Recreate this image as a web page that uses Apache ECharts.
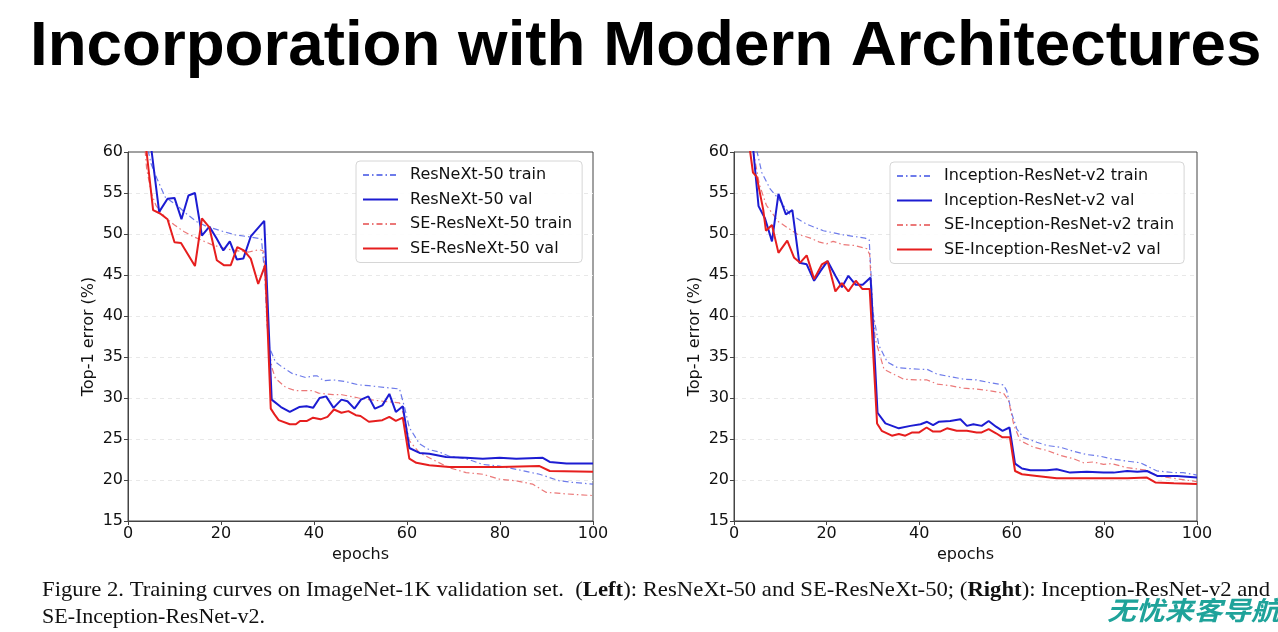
<!DOCTYPE html>
<html><head><meta charset="utf-8">
<script src="https://cdn.jsdelivr.net/npm/echarts@6/dist/echarts.min.js"></script>
<style>html,body{margin:0;padding:0;background:#fff}#c{width:1278px;height:632px}</style>
</head><body><div id="c"></div>
<script>
// ---- data ----
const xTicks = [0, 20, 40, 60, 80, 100];
const yTicks = [15, 20, 25, 30, 35, 40, 45, 50, 55, 60];

const leftNames = ['ResNeXt-50 train', 'ResNeXt-50 val', 'SE-ResNeXt-50 train', 'SE-ResNeXt-50 val'];
const rightNames = ['Inception-ResNet-v2 train', 'Inception-ResNet-v2 val', 'SE-Inception-ResNet-v2 train', 'SE-Inception-ResNet-v2 val'];

// [epoch, top-1 error %]
const resnextTrain = [[2,75],[4.4,60],[5,58.5],[6.2,56.8],[8,54.5],[10.5,53.5],[12.5,52.5],[14.8,51.5],[17,50.9],[20.5,50.3],[23,49.9],[25.5,49.7],[28.7,49.4],[29.4,45],[29.9,39],[30.4,36.2],[31.7,34.4],[33.1,33.8],[35.3,33.0],[38.2,32.5],[40,32.7],[40.7,32.7],[42.1,32.1],[44.2,32.2],[46.8,32.0],[49.6,31.6],[51.8,31.5],[55,31.3],[58.4,31.1],[59.5,28.8],[60.5,26.4],[62.7,24.4],[64.8,23.7],[67,23.4],[69.1,22.9],[72.7,22.6],[76.3,21.9],[79.9,21.7],[83.5,21.3],[88.5,20.7],[92.8,19.9],[95.7,19.7],[100,19.5]];
const resnextVal = [[3,75],[5.1,60],[6.7,52.7],[8.5,54.3],[10,54.4],[11.5,51.8],[13,54.7],[14.4,55.0],[15.9,49.8],[17.5,50.9],[19,49.5],[20.5,48.0],[21.9,49.1],[23.4,46.9],[24.8,47.0],[26.4,49.7],[29.3,51.6],[30.9,29.8],[32.9,28.9],[34.8,28.3],[36.8,28.9],[38.4,29.0],[39.8,28.8],[41.2,30.0],[42.6,30.2],[44.2,28.8],[45.9,29.8],[47.2,29.6],[48.7,28.7],[50.1,29.8],[51.7,30.2],[53.1,28.7],[54.7,29.1],[56.2,30.5],[57.6,28.3],[59.1,29.0],[60.5,23.9],[62.7,23.3],[64.8,23.2],[68.4,22.8],[72.7,22.7],[76.3,22.6],[79.9,22.7],[83.5,22.6],[89.2,22.7],[90.7,22.2],[94.3,22.0],[100,22.0]];
const seResnextTrain = [[1.5,75],[4,58],[5,55],[6,53.5],[8,52],[10,51.1],[12,50.3],[14,49.7],[16,49.2],[18,48.7],[21,48.2],[24,47.9],[26,47.8],[28.3,48.1],[29.2,47.9],[29.8,42],[30.3,36],[31,33.6],[31.7,32.4],[33.9,31.3],[36,30.9],[39.7,30.9],[41,30.6],[44.1,30.4],[46,30.4],[49.6,30.0],[51.8,29.8],[55,29.6],[58.4,29.4],[59.5,27.6],[60.5,24.8],[62.7,23.3],[65.5,22.5],[69.1,21.5],[72.7,20.9],[76.3,20.7],[79.9,20.1],[83.5,19.9],[87,19.5],[89.9,18.5],[94.3,18.3],[100,18.1]];
const seResnextVal = [[2,72],[4,60],[5.4,52.9],[6.9,52.5],[8.5,51.8],[10,49.0],[11.4,48.9],[14.4,46.1],[15.9,51.9],[17.5,50.8],[19.1,46.8],[20.6,46.2],[22.1,46.2],[23.5,48.4],[24.9,48.0],[26.4,47.0],[28,43.9],[29.5,46.2],[30.7,28.7],[31.5,28.0],[32.4,27.3],[34.8,26.8],[36.1,26.8],[37,27.2],[38.5,27.2],[39.8,27.6],[41.4,27.4],[42.9,27.7],[44.3,28.6],[45.9,28.2],[47.4,28.4],[49,27.9],[50,27.8],[51.8,27.1],[54.7,27.3],[56.2,27.7],[57.6,27.2],[59.1,27.6],[60.5,22.6],[62,22.1],[64.8,21.8],[69.1,21.6],[72.7,21.6],[80,21.6],[88.5,21.7],[90.7,21.1],[100,21.0]];

const incTrain = [[3,75],[5,60],[6,57.5],[7.8,55.5],[9.6,54.3],[12.1,52.4],[15.7,51.2],[19.3,50.4],[23.6,49.9],[28.3,49.5],[29.2,49.3],[29.6,45],[30,40.5],[31.3,36.4],[33.1,34.4],[35.3,33.7],[37.4,33.6],[40.3,33.5],[41.7,33.5],[43.9,32.9],[46.7,32.6],[49.6,32.3],[52.4,32.2],[55,31.9],[58.2,31.6],[58.9,30.9],[60,28.1],[61.1,26.2],[62.5,25.2],[65.4,24.6],[67.6,24.2],[70.5,24.0],[73.3,23.5],[76.2,23.1],[79.1,22.9],[81.3,22.6],[84.9,22.3],[87.8,22.1],[89.2,21.7],[91.4,21.1],[95,20.9],[97,20.9],[100,20.6]];
const incVal = [[3,75],[4.2,60],[5.3,53.4],[6.7,51.9],[8.2,49.1],[9.6,54.9],[11.2,52.4],[12.6,52.9],[14.1,46.5],[15.7,46.3],[17.3,44.3],[18.7,45.5],[20.2,46.7],[21.9,44.9],[23.3,43.5],[24.7,44.9],[26.3,43.8],[27.8,43.8],[29.5,44.7],[31,28.2],[32.7,26.9],[35.6,26.3],[38.1,26.6],[40.3,26.8],[41.7,27.1],[43,26.7],[44.2,27.1],[46.7,27.2],[48.9,27.4],[50.3,26.6],[51.7,26.8],[53.5,26.6],[55,27.2],[56.6,26.5],[58,26.0],[59.5,26.4],[60.7,22.0],[62.2,21.4],[64,21.2],[67.6,21.2],[69.7,21.3],[72.6,20.9],[76.2,21.0],[79.8,20.9],[82,20.9],[84.9,21.1],[87.1,21.0],[89.2,21.1],[91.4,20.5],[95.7,20.5],[100,20.3]];
const seIncTrain = [[2.5,75],[4.2,60],[5.5,56],[7,53.5],[9.6,51.5],[13.6,50.0],[16.5,49.5],[18.5,49.0],[20,48.8],[21.4,49.1],[23.6,48.7],[26,48.6],[28.7,48.2],[29.3,47.5],[29.8,42],[30.5,37.2],[32.4,33.5],[34.5,32.9],[36.6,32.3],[39.5,32.2],[41.7,32.2],[43.9,31.7],[46.7,31.5],[49.6,31.2],[52.4,31.1],[55,30.9],[58.2,30.6],[59.3,29.7],[60.4,26.8],[61.8,24.8],[64.7,24.0],[67.6,23.6],[70.5,23.0],[73.3,22.6],[75.5,22.1],[77.6,22.2],[79.8,21.9],[81.5,22.0],[84.9,21.5],[89.2,21.2],[91.4,20.5],[95,20.2],[100,19.8]];
const seIncVal = [[2,75],[3.5,60],[4.1,57.5],[4.9,57],[6.3,53.0],[6.9,50.4],[8.2,51.1],[9.6,47.7],[11.5,49.2],[13,47.1],[14.3,46.5],[15.7,47.4],[17.3,44.5],[19,46.3],[20.2,46.7],[21.9,43.0],[23.3,44.0],[24.7,43.0],[26.3,44.3],[27.7,43.3],[29.3,43.3],[30.9,26.9],[31.9,26.0],[34.1,25.4],[35.6,25.6],[37,25.4],[38.5,25.8],[40,25.8],[41.6,26.4],[43,25.9],[44.5,25.9],[46,26.3],[48.1,26.0],[50.3,26.0],[52.4,25.8],[53.5,25.8],[55,26.2],[56.6,25.7],[58,25.2],[59.6,25.2],[60.7,21.1],[62.2,20.7],[65.4,20.5],[69.7,20.2],[76.2,20.2],[85,20.2],[89.2,20.3],[91,19.7],[95,19.6],[100,19.5]];

const titleText = 'Incorporation with Modern Architectures';
const yName = 'Top-1 error (%)';
const xName = 'epochs';

// ---- styling ----
const BLUE = '#1c1cd2', RED = '#e61e1e', BLUE_T = '#5464e6', RED_T = '#e86060';
const FONT = 'DejaVu Sans';
const DASHDOT = [6, 3, 1.5, 3];

function axisPair(gi) {
  const x = {
    type: 'value', gridIndex: gi, min: xTicks[0], max: xTicks[xTicks.length - 1], interval: xTicks[1] - xTicks[0],
    name: xName, nameLocation: 'middle', nameGap: 24,
    nameTextStyle: { fontFamily: FONT, fontSize: 16, color: '#111' },
    axisLine: { show: true, lineStyle: { color: '#444', width: 1 } },
    axisTick: { show: true, inside: false, length: 4, lineStyle: { color: '#444' } },
    axisLabel: { fontFamily: FONT, fontSize: 16, color: '#111', margin: 5 },
    splitLine: { show: false }
  };
  const y = {
    type: 'value', gridIndex: gi, min: yTicks[0], max: yTicks[yTicks.length - 1], interval: yTicks[1] - yTicks[0],
    name: yName, nameLocation: 'middle', nameGap: 31, nameRotate: 90,
    nameTextStyle: { fontFamily: FONT, fontSize: 16, color: '#111' },
    axisLine: { show: true, lineStyle: { color: '#444', width: 1 } },
    axisTick: { show: true, inside: false, length: 4, lineStyle: { color: '#444' } },
    axisLabel: { fontFamily: FONT, fontSize: 16, color: '#111', margin: 5 },
    splitLine: { show: true, showMinLine: false, showMaxLine: false, lineStyle: { color: '#e8e8e8', type: [4, 4], width: 1 } }
  };
  return [x, y];
}
function mk(name, data, gi, color, train) {
  return {
    type: 'line', name, data, xAxisIndex: gi, yAxisIndex: gi,
    symbol: 'none', showSymbol: false, clip: true, animation: false,
    lineStyle: train ? { color, width: 1.2, type: DASHDOT, opacity: 0.85 } : { color, width: 2 },
    itemStyle: { color },
    z: train ? 2 : 3
  };
}
const [x0, y0] = axisPair(0);
const [x1, y1] = axisPair(1);

function legend(names, left, top) {
  return {
    data: names, orient: 'vertical', left, top,
    itemWidth: 35, itemHeight: 10, itemGap: 8.5,
    padding: [6, 10, 6, 6],
    backgroundColor: 'rgba(255,255,255,0.9)', borderColor: '#d6d6d6', borderWidth: 1, borderRadius: 4,
    itemStyle: { opacity: 0 },
    textStyle: { fontFamily: FONT, fontSize: 16, color: '#111', padding: [0, 0, 0, 7] },
    selectedMode: false
  };
}

const chart = echarts.init(document.getElementById('c'), null, { renderer: 'canvas' });
chart.setOption({
  animation: false,
  backgroundColor: '#fff',
  grid: [
    { left: 128, top: 152, width: 465, height: 369, show: true, borderColor: '#444', borderWidth: 1, backgroundColor: '#fff' },
    { left: 734, top: 152, width: 463, height: 369, show: true, borderColor: '#444', borderWidth: 1, backgroundColor: '#fff' }
  ],
  xAxis: [x0, x1],
  yAxis: [y0, y1],
  legend: [legend(leftNames, 356, 161), legend(rightNames, 890, 162)],
  series: [
    mk(leftNames[0], resnextTrain, 0, BLUE_T, true),
    mk(leftNames[2], seResnextTrain, 0, RED_T, true),
    mk(leftNames[1], resnextVal, 0, BLUE, false),
    mk(leftNames[3], seResnextVal, 0, RED, false),
    mk(rightNames[0], incTrain, 1, BLUE_T, true),
    mk(rightNames[2], seIncTrain, 1, RED_T, true),
    mk(rightNames[1], incVal, 1, BLUE, false),
    mk(rightNames[3], seIncVal, 1, RED, false)
  ],
  graphic: [
    { type: 'text', left: 30, top: 15, style: { text: titleText, fontFamily: 'Liberation Sans, Arial', fontWeight: 'bold', fontSize: 63.7, fill: '#000' } },
    { type: 'text', x: 42, y: 579, scaleX: 1.032, style: {
      text: '{n|Figure 2. Training curves on ImageNet-1K validation set.  (}{b|Left}{n|): ResNeXt-50 and SE-ResNeXt-50; (}{b|Right}{n|): Inception-ResNet-v2 and}',
      rich: { n: { fontFamily: 'Liberation Serif', fontSize: 22, fill: '#111' }, b: { fontFamily: 'Liberation Serif', fontSize: 22, fontWeight: 'bold', fill: '#111' } }
    } },
    { type: 'text', x: 42, y: 606, style: { text: 'SE-Inception-ResNet-v2.', fontFamily: 'Liberation Serif', fontSize: 22, fill: '#111' } },
    { type: 'text', x: 1107, y: 597, scaleX: 1.2, scaleY: 1.08, style: { text: '无忧来客导航', fontFamily: 'Noto Sans CJK SC', fontWeight: 'bold', fontStyle: 'italic', fontSize: 24, fill: '#1fa39a' } }
  ]
});
</script></body></html>
